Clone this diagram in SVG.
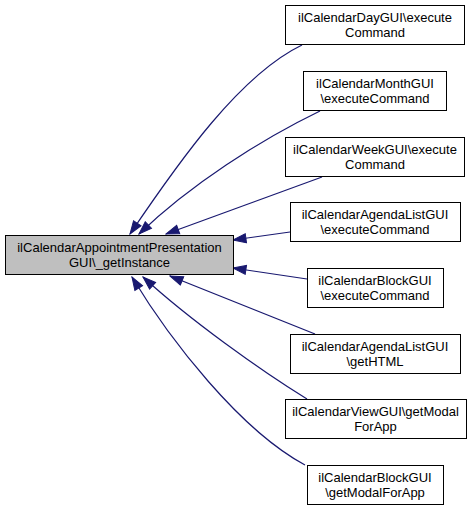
<svg xmlns="http://www.w3.org/2000/svg" width="476" height="509" viewBox="0 0 476 509">
<style>
.box{fill:#ffffff;stroke:#000000;stroke-width:1}
.main{fill:#bfbfbf;stroke:#000000;stroke-width:1}
.lbl{font-family:"Liberation Sans",Arial,Helvetica,sans-serif;font-size:13px;text-anchor:middle;fill:#000000}
.edge{fill:none;stroke:#191970;stroke-width:1.2}
</style>
<defs>
<marker id="ah" markerUnits="userSpaceOnUse" markerWidth="15" markerHeight="11" viewBox="0 0 15 11" refX="14" refY="5.5" orient="auto">
<path d="M1,1 L14,5.5 L1,10 z" fill="#191970" stroke="#191970" stroke-width="1"/>
</marker>
</defs>
<rect width="476" height="509" fill="#ffffff"/>
<g id="connectors">
<path class="edge" marker-end="url(#ah)" d="M302,45 C240,75 180,160 130,234"/>
<path class="edge" marker-end="url(#ah)" d="M320,111 C260,140 190,185 139,234"/>
<path class="edge" marker-end="url(#ah)" d="M322,177 L166,234"/>
<path class="edge" marker-end="url(#ah)" d="M290,232 L233,240"/>
<path class="edge" marker-end="url(#ah)" d="M307,279 L233,268"/>
<path class="edge" marker-end="url(#ah)" d="M315,334 L170,276"/>
<path class="edge" marker-end="url(#ah)" d="M307,399 C260,370 190,320 143,277"/>
<path class="edge" marker-end="url(#ah)" d="M305,465 C240,430 170,340 132,277"/>
</g>
<g id="node-main">
<rect class="main" x="5.5" y="235.5" width="228" height="39"/>
<text class="lbl" x="119.5" y="252">ilCalendarAppointmentPresentation</text>
<text class="lbl" x="119.5" y="266.5">GUI\_getInstance</text>
</g>
<g id="node-day">
<rect class="box" x="285.5" y="5.5" width="179" height="39"/>
<text class="lbl" x="375" y="22">ilCalendarDayGUI\execute</text>
<text class="lbl" x="375" y="36.5">Command</text>
</g>
<g id="node-month">
<rect class="box" x="303.5" y="71.5" width="143" height="39"/>
<text class="lbl" x="375" y="88">ilCalendarMonthGUI</text>
<text class="lbl" x="375" y="102.5">\executeCommand</text>
</g>
<g id="node-week">
<rect class="box" x="285.5" y="137.5" width="179" height="39"/>
<text class="lbl" x="375" y="154">ilCalendarWeekGUI\execute</text>
<text class="lbl" x="375" y="168.5">Command</text>
</g>
<g id="node-agenda-exec">
<rect class="box" x="290.5" y="202.5" width="170" height="39"/>
<text class="lbl" x="375" y="219">ilCalendarAgendaListGUI</text>
<text class="lbl" x="375" y="233.5">\executeCommand</text>
</g>
<g id="node-block-exec">
<rect class="box" x="307.5" y="268.5" width="136" height="39"/>
<text class="lbl" x="375" y="285">ilCalendarBlockGUI</text>
<text class="lbl" x="375" y="299.5">\executeCommand</text>
</g>
<g id="node-agenda-html">
<rect class="box" x="290.5" y="334.5" width="170" height="39"/>
<text class="lbl" x="375" y="351">ilCalendarAgendaListGUI</text>
<text class="lbl" x="375" y="365.5">\getHTML</text>
</g>
<g id="node-view-modal">
<rect class="box" x="285.5" y="399.5" width="181" height="39"/>
<text class="lbl" x="375.5" y="416">ilCalendarViewGUI\getModal</text>
<text class="lbl" x="375.5" y="430.5">ForApp</text>
</g>
<g id="node-block-modal">
<rect class="box" x="307.5" y="465.5" width="136" height="39"/>
<text class="lbl" x="375" y="482">ilCalendarBlockGUI</text>
<text class="lbl" x="375" y="496.5">\getModalForApp</text>
</g>
</svg>
